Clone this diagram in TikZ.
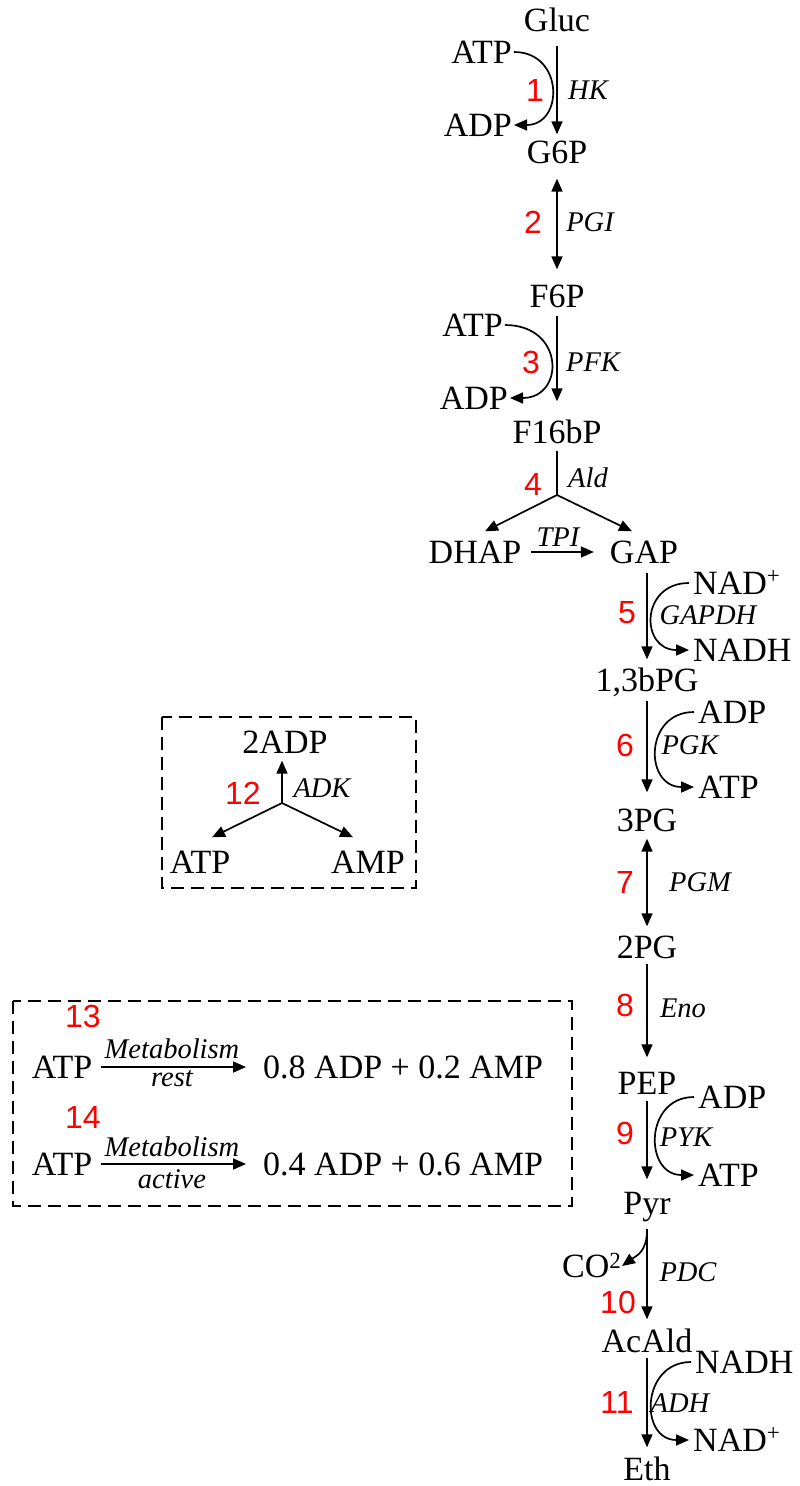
\documentclass[tikz,border=0pt]{standalone}
\usepackage{fontspec}
\setmainfont{Liberation Serif}
\newfontfamily\stepfont{Liberation Sans}
\usetikzlibrary{arrows.meta,calc}
\newcommand\upmark[2][11pt]{\raisebox{#1}{\fontsize{23}{23}\selectfont #2}}
\begin{document}
\begin{tikzpicture}[x=1pt,y=-1pt,
  species/.style={inner sep=2pt,text height=23pt,text depth=0pt,font=\fontsize{34}{40}\selectfont},
  cofR/.style={species,anchor=west,inner xsep=4pt},
  cofL/.style={species,anchor=east,inner xsep=2pt},
  enzyme/.style={inner sep=0pt,font=\fontsize{28.5}{32}\selectfont\itshape},
  stepno/.style={inner sep=0pt,text=red,font=\fontsize{32}{36}\selectfont\stepfont},
  rxn/.style={line width=1.7pt,-{Triangle[length=13pt,width=11pt]}},
  rev/.style={line width=1.7pt,{Triangle[length=13pt,width=11pt]}-{Triangle[length=13pt,width=11pt]}},
  groupbox/.style={line width=2pt,dash pattern=on 13pt off 7pt}
]
\useasboundingbox (0,0) rectangle (800,1486);

% ---------------- glycolytic chain ----------------
\node[species] (gluc)  at (557,20)   {Gluc};
\node[species] (g6p)   at (557,152)  {G6P};
\node[species] (f6p)   at (557,296)  {F6P};
\node[species] (f16bp) at (557,432)  {F16bP};
\node[species] (dhap)  at (475,552)  {DHAP};
\node[species] (gap)   at (644,552)  {GAP};
\node[species] (bpg)   at (647,680)  {1,3bPG};
\node[species] (pg3)   at (647,820)  {3PG};
\node[species] (pg2)   at (647,947)  {2PG};
\node[species] (pep)   at (647,1083) {PEP};
\node[species] (pyr)   at (647,1203) {Pyr};
\node[species] (acald) at (647,1341) {AcAld};
\node[species] (eth)   at (647,1469) {Eth};

% step 1: hexokinase
\draw[rxn,shorten <=12pt,shorten >=4pt] (gluc) -- (g6p);
\node[cofL] (atp1) at (514,52)  {ATP};
\node[cofL] (adp1) at (514,125) {ADP};
\draw[rxn] (atp1.east) .. controls +(50,0) and +(50,0) .. (adp1.east);
\node[stepno] at (535,90) {1};
\node[enzyme] at (588,90) {HK};

% step 2: phosphoglucose isomerase
\draw[rev,shorten <=13pt,shorten >=13pt] (g6p) -- (f6p);
\node[stepno] at (533,222) {2};
\node[enzyme] at (590,222) {PGI};

% step 3: phosphofructokinase
\draw[rxn,shorten <=6pt,shorten >=17pt] (f6p) -- (f16bp);
\node[cofL] (atp3) at (505,325) {ATP};
\node[cofL] (adp3) at (510,398) {ADP};
\draw[rxn] (atp3.east) .. controls +(60,0) and +(55,0) .. (adp3.east);
\node[stepno] at (531,362) {3};
\node[enzyme] at (593,362) {PFK};

% step 4: aldolase, triose phosphate isomerase
\coordinate (j4) at (557,495);
\draw[line width=1.7pt,shorten <=5pt] (f16bp) -- (j4);
\draw[rxn] (j4) -- ($(dhap.north)+(10,-7)$);
\draw[rxn] (j4) -- ($(gap.north)+(-12,-7)$);
\node[stepno] at (533,484) {4};
\node[enzyme] at (588,478) {Ald};
\draw[rxn,shorten <=8pt,shorten >=14pt] (dhap) -- (gap);
\node[enzyme] at (558,537) {TPI};

% step 5: GAPDH
\draw[rxn,shorten <=7pt,shorten >=7pt] (gap.south -| bpg) -- (bpg.north);
\node[cofR] (nad5)  at (689,583) {NAD\upmark{+}};
\node[cofR] (nadh5) at (689,650) {NADH};
\draw[rxn] (nad5.west) .. controls +(-49,0) and +(-49,0) .. (nadh5.west);
\node[stepno] at (627,613) {5};
\node[enzyme] at (708,615) {GAPDH};

% step 6: phosphoglycerate kinase
\draw[rxn,shorten <=7pt,shorten >=14pt] (bpg) -- (pg3);
\node[cofR] (adp6) at (694,712) {ADP};
\node[cofR] (atp6) at (694,787) {ATP};
\draw[rxn] (adp6.west) .. controls +(-50,0) and +(-50,0) .. (atp6.west);
\node[stepno] at (625,745) {6};
\node[enzyme] at (690,745) {PGK};

% step 7: phosphoglycerate mutase
\draw[rev,shorten <=5pt,shorten >=7pt] (pg3) -- (pg2);
\node[stepno] at (625,882) {7};
\node[enzyme] at (700,882) {PGM};

% step 8: enolase
\draw[rxn,shorten <=3pt,shorten >=12pt] (pg2) -- (pep);
\node[stepno] at (625,1005) {8};
\node[enzyme] at (683,1008) {Eno};

% step 9: pyruvate kinase
\draw[rxn,shorten <=4pt,shorten >=10pt] (pep) -- (pyr);
\node[cofR] (adp9) at (694,1097) {ADP};
\node[cofR] (atp9) at (694,1175) {ATP};
\draw[rxn] (adp9.west) .. controls +(-50,0) and +(-50,0) .. (atp9.west);
\node[stepno] at (625,1133) {9};
\node[enzyme] at (686,1137) {PYK};

% step 10: pyruvate decarboxylase
\draw[rxn,shorten <=12pt,shorten >=8pt] (pyr) -- (acald);
\coordinate (s10) at (647,1230);
\node[species,anchor=east,inner xsep=1pt] (co2) at (622,1266) {CO\upmark[9pt]{2}};
\draw[rxn] (s10) .. controls +(0,22) and +(14,-10) .. (co2.east);
\node[stepno] at (618,1302) {10};
\node[enzyme] at (688,1272) {PDC};

% step 11: alcohol dehydrogenase
\draw[rxn,shorten <=3pt,shorten >=8pt] (acald) -- (eth);
\node[cofR] (nadh11) at (691,1362) {NADH};
\node[cofR] (nad11)  at (689,1440) {NAD\upmark{+}};
\draw[rxn] (nadh11.west) .. controls +(-50,0) and +(-50,0) .. (nad11.west);
\node[stepno] at (617,1402) {11};
\node[enzyme] at (680,1403) {ADH};

% ---------------- adenylate kinase ----------------
\draw[groupbox] (162,717) rectangle (416,888);
\node[species] (adp12) at (285,742) {2ADP};
\node[species] (atp12) at (200,862) {ATP};
\node[species] (amp12) at (368,862) {AMP};
\coordinate (j12) at (282,803);
\draw[rxn,shorten >=5pt] (j12) -- (j12 |- adp12.south);
\draw[rxn] (j12) -- ($(atp12.north)+(12,-11)$);
\draw[rxn] (j12) -- ($(amp12.north)+(-15,-11)$);
\node[stepno] at (243,793) {12};
\node[enzyme] at (322,788) {ADK};

% ---------------- ATP consumption ----------------
\draw[groupbox] (13,1001) rectangle (572,1206);
\node[stepno] at (83,1016) {13};
\node[species] (atp13) at (62,1067) {ATP};
\node[species,anchor=west] (out13) at (261,1067) {0.8 ADP + 0.2 AMP};
\draw[rxn,shorten <=7pt,shorten >=15pt] (atp13) -- (out13);
\node[enzyme] at (172,1049) {Metabolism};
\node[enzyme] at (172,1079) {rest};

\node[stepno] at (83,1117) {14};
\node[species] (atp14) at (62,1164) {ATP};
\node[species,anchor=west] (out14) at (261,1164) {0.4 ADP + 0.6 AMP};
\draw[rxn,shorten <=7pt,shorten >=15pt] (atp14) -- (out14);
\node[enzyme] at (172,1147) {Metabolism};
\node[enzyme] at (172,1179) {active};
\end{tikzpicture}
\end{document}
